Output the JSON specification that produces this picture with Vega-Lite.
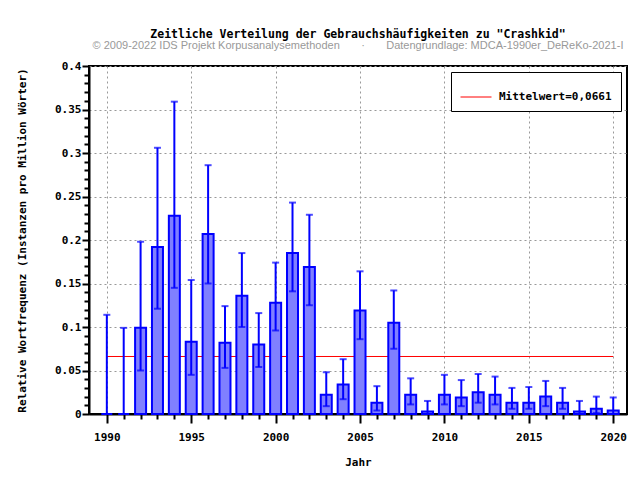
{
  "$schema": "https://vega.github.io/schema/vega-lite/v6.json",
  "width": 538,
  "height": 348,
  "autosize": "none",
  "padding": {"left": 89, "top": 66, "right": 13, "bottom": 66},
  "background": "white",
  "title": {
    "text": "Zeitliche Verteilung der Gebrauchshäufigkeiten zu \"Crashkid\"",
    "subtitle": "© 2009-2022 IDS Projekt Korpusanalysemethoden\u00a0\u00a0\u00a0\u00a0\u00a0\u00a0\u00a0·\u00a0\u00a0\u00a0\u00a0\u00a0\u00a0\u00a0Datengrundlage: MDCA-1990er_DeReKo-2021-I",
    "anchor": "middle",
    "font": "DejaVu Sans Mono",
    "fontSize": 11.5,
    "fontWeight": "bold",
    "color": "black",
    "subtitleFont": "Liberation Sans",
    "subtitleFontSize": 11,
    "subtitleColor": "#999999",
    "subtitlePadding": 0,
    "offset": 9
  },
  "datasets": {
    "freq": [
      {"year": 1990, "value": 0.0, "lo": 0.0, "hi": 0.114},
      {"year": 1991, "value": 0.0, "lo": 0.0, "hi": 0.099},
      {"year": 1992, "value": 0.099, "lo": 0.05, "hi": 0.198},
      {"year": 1993, "value": 0.192, "lo": 0.121, "hi": 0.306},
      {"year": 1994, "value": 0.228, "lo": 0.145, "hi": 0.359},
      {"year": 1995, "value": 0.083, "lo": 0.045, "hi": 0.154},
      {"year": 1996, "value": 0.207, "lo": 0.15, "hi": 0.286},
      {"year": 1997, "value": 0.082, "lo": 0.053, "hi": 0.124},
      {"year": 1998, "value": 0.136, "lo": 0.1, "hi": 0.185},
      {"year": 1999, "value": 0.08, "lo": 0.054, "hi": 0.116},
      {"year": 2000, "value": 0.128, "lo": 0.096, "hi": 0.174},
      {"year": 2001, "value": 0.185, "lo": 0.141, "hi": 0.243},
      {"year": 2002, "value": 0.169, "lo": 0.125, "hi": 0.229},
      {"year": 2003, "value": 0.022, "lo": 0.009, "hi": 0.048},
      {"year": 2004, "value": 0.034, "lo": 0.017, "hi": 0.063},
      {"year": 2005, "value": 0.119, "lo": 0.086, "hi": 0.164},
      {"year": 2006, "value": 0.013, "lo": 0.004, "hi": 0.032},
      {"year": 2007, "value": 0.105, "lo": 0.075, "hi": 0.142},
      {"year": 2008, "value": 0.022, "lo": 0.011, "hi": 0.041},
      {"year": 2009, "value": 0.003, "lo": 0.0, "hi": 0.015},
      {"year": 2010, "value": 0.022, "lo": 0.011, "hi": 0.045},
      {"year": 2011, "value": 0.019, "lo": 0.009, "hi": 0.039},
      {"year": 2012, "value": 0.025, "lo": 0.013, "hi": 0.046},
      {"year": 2013, "value": 0.022, "lo": 0.011, "hi": 0.043},
      {"year": 2014, "value": 0.013, "lo": 0.006, "hi": 0.03},
      {"year": 2015, "value": 0.013, "lo": 0.006, "hi": 0.031},
      {"year": 2016, "value": 0.02, "lo": 0.009, "hi": 0.038},
      {"year": 2017, "value": 0.013, "lo": 0.006, "hi": 0.03},
      {"year": 2018, "value": 0.003, "lo": 0.0, "hi": 0.015},
      {"year": 2019, "value": 0.006, "lo": 0.001, "hi": 0.02},
      {"year": 2020, "value": 0.004, "lo": 0.0, "hi": 0.019}
    ],
    "mean": [
      {"start": 1990, "end": 2020, "mean": 0.0661, "label": "Mittelwert=0,0661"}
    ]
  },
  "layer": [
    {
      "data": {"name": "mean"},
      "mark": {"type": "rule", "strokeWidth": 1},
      "encoding": {
        "x": {
          "field": "start",
          "type": "quantitative",
          "scale": {"domain": [1989.24, 2020.52], "nice": false, "zero": false},
          "axis": {
            "values": [1990,1991,1992,1993,1994,1995,1996,1997,1998,1999,2000,2001,2002,2003,2004,2005,2006,2007,2008,2009,2010,2011,2012,2013,2014,2015,2016,2017,2018,2019,2020],
            "format": "d",
            "labelExpr": "datum.value % 5 === 0 ? datum.label : ''",
            "labelOverlap": false,
            "tickSize": {"condition": {"test": "datum.value % 5 === 0", "value": 9}, "value": 5},
            "gridOpacity": {"condition": {"test": "datum.value % 5 === 0", "value": 1}, "value": 0},
            "labelPadding": 8,
            "title": "Jahr",
            "titlePadding": 14
          }
        },
        "x2": {"field": "end"},
        "y": {
          "field": "mean",
          "type": "quantitative",
          "scale": {"domain": [0, 0.4], "nice": false},
          "axis": {
            "values": [0,0.01,0.02,0.03,0.04,0.05,0.06,0.07,0.08,0.09,0.1,0.11,0.12,0.13,0.14,0.15,0.16,0.17,0.18,0.19,0.2,0.21,0.22,0.23,0.24,0.25,0.26,0.27,0.28,0.29,0.3,0.31,0.32,0.33,0.34,0.35,0.36,0.37,0.38,0.39,0.4],
            "labelExpr": "round(datum.value*100) % 5 === 0 ? format(datum.value, '~g') : ''",
            "labelOverlap": false,
            "tickSize": {"condition": {"test": "round(datum.value*100) % 5 === 0", "value": 7}, "value": 5},
            "gridOpacity": {"condition": {"test": "round(datum.value*100) % 5 === 0", "value": 1}, "value": 0},
            "labelPadding": 1,
            "title": "Relative Wortfrequenz (Instanzen pro Million Wörter)",
            "titlePadding": 27
          }
        },
        "color": {
          "field": "label",
          "type": "nominal",
          "scale": {"range": ["red"]},
          "legend": {
            "title": null,
            "orient": "top-right",
            "offset": 6,
            "symbolType": "stroke",
            "symbolSize": 961,
            "symbolStrokeWidth": 1,
            "strokeColor": "black",
            "fillColor": "white",
            "padding": 9,
            "labelFont": "DejaVu Sans Mono",
            "labelFontWeight": "bold",
            "labelFontSize": 11,
            "labelColor": "black",
            "labelOffset": 7,
            "labelLimit": 0
          }
        }
      }
    },
    {
      "data": {"name": "freq"},
      "mark": {"type": "bar", "size": 11, "fill": "#8080ff", "stroke": "#0000ff", "strokeWidth": 2, "fillOpacity": 1},
      "encoding": {
        "x": {
          "field": "year",
          "type": "quantitative",
          "axis": {
            "values": [1990,1991,1992,1993,1994,1995,1996,1997,1998,1999,2000,2001,2002,2003,2004,2005,2006,2007,2008,2009,2010,2011,2012,2013,2014,2015,2016,2017,2018,2019,2020],
            "format": "d",
            "labelExpr": "datum.value % 5 === 0 ? datum.label : ''",
            "labelOverlap": false,
            "tickSize": {"condition": {"test": "datum.value % 5 === 0", "value": 9}, "value": 5},
            "gridOpacity": {"condition": {"test": "datum.value % 5 === 0", "value": 1}, "value": 0},
            "labelPadding": 8,
            "title": "Jahr",
            "titlePadding": 14
          }
        },
        "y": {
          "field": "value",
          "type": "quantitative",
          "axis": {
            "values": [0,0.01,0.02,0.03,0.04,0.05,0.06,0.07,0.08,0.09,0.1,0.11,0.12,0.13,0.14,0.15,0.16,0.17,0.18,0.19,0.2,0.21,0.22,0.23,0.24,0.25,0.26,0.27,0.28,0.29,0.3,0.31,0.32,0.33,0.34,0.35,0.36,0.37,0.38,0.39,0.4],
            "labelExpr": "round(datum.value*100) % 5 === 0 ? format(datum.value, '~g') : ''",
            "labelOverlap": false,
            "tickSize": {"condition": {"test": "round(datum.value*100) % 5 === 0", "value": 7}, "value": 5},
            "gridOpacity": {"condition": {"test": "round(datum.value*100) % 5 === 0", "value": 1}, "value": 0},
            "labelPadding": 1,
            "title": "Relative Wortfrequenz (Instanzen pro Million Wörter)",
            "titlePadding": 27
          }
        }
      }
    },
    {
      "data": {"name": "freq"},
      "mark": {"type": "errorbar", "ticks": {"size": 7, "thickness": 2, "color": "#0000ff"}, "rule": {"strokeWidth": 2, "color": "#0000ff"}},
      "encoding": {
        "x": {
          "field": "year",
          "type": "quantitative",
          "axis": {
            "values": [1990,1991,1992,1993,1994,1995,1996,1997,1998,1999,2000,2001,2002,2003,2004,2005,2006,2007,2008,2009,2010,2011,2012,2013,2014,2015,2016,2017,2018,2019,2020],
            "format": "d",
            "labelExpr": "datum.value % 5 === 0 ? datum.label : ''",
            "labelOverlap": false,
            "tickSize": {"condition": {"test": "datum.value % 5 === 0", "value": 9}, "value": 5},
            "gridOpacity": {"condition": {"test": "datum.value % 5 === 0", "value": 1}, "value": 0},
            "labelPadding": 8,
            "title": "Jahr",
            "titlePadding": 14
          }
        },
        "y": {
          "field": "lo",
          "type": "quantitative",
          "axis": {
            "values": [0,0.01,0.02,0.03,0.04,0.05,0.06,0.07,0.08,0.09,0.1,0.11,0.12,0.13,0.14,0.15,0.16,0.17,0.18,0.19,0.2,0.21,0.22,0.23,0.24,0.25,0.26,0.27,0.28,0.29,0.3,0.31,0.32,0.33,0.34,0.35,0.36,0.37,0.38,0.39,0.4],
            "labelExpr": "round(datum.value*100) % 5 === 0 ? format(datum.value, '~g') : ''",
            "labelOverlap": false,
            "tickSize": {"condition": {"test": "round(datum.value*100) % 5 === 0", "value": 7}, "value": 5},
            "gridOpacity": {"condition": {"test": "round(datum.value*100) % 5 === 0", "value": 1}, "value": 0},
            "labelPadding": 1,
            "title": "Relative Wortfrequenz (Instanzen pro Million Wörter)",
            "titlePadding": 27
          }
        },
        "y2": {"field": "hi"}
      }
    }
  ],
  "config": {
    "view": {"stroke": "black", "strokeWidth": 2},
    "axis": {
      "domainColor": "black",
      "domainWidth": 2,
      "tickColor": "black",
      "tickWidth": 2,
      "grid": true,
      "gridColor": "#999999",
      "gridDash": [2, 3],
      "gridWidth": 1,
      "labelFont": "DejaVu Sans Mono",
      "labelFontWeight": "bold",
      "labelFontSize": 11,
      "labelColor": "black",
      "titleFont": "DejaVu Sans Mono",
      "titleFontWeight": "bold",
      "titleFontSize": 11,
      "titleColor": "black"
    }
  }
}
